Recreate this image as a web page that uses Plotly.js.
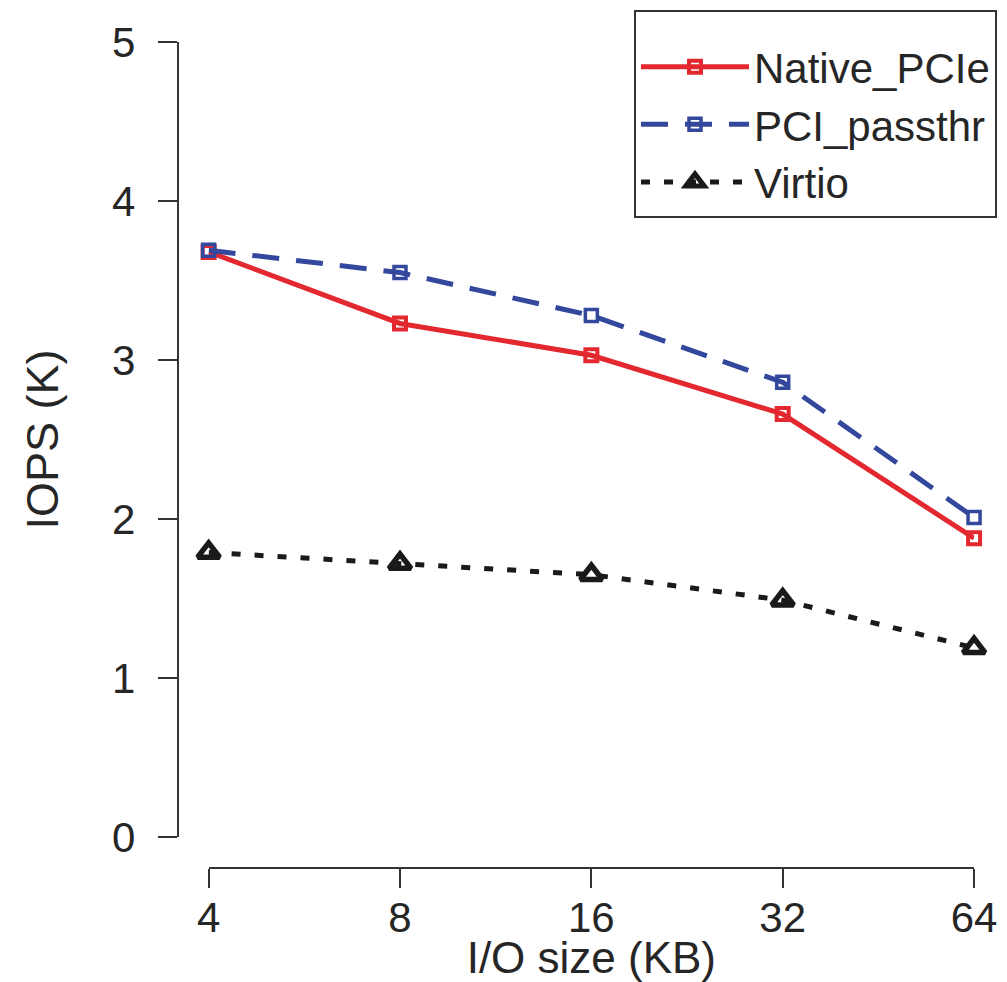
<!DOCTYPE html>
<html>
<head>
<meta charset="utf-8">
<script src="https://cdn.plot.ly/plotly-3.0.1.min.js"></script>
<style>html,body{margin:0;padding:0;background:#fff;}</style>
</head>
<body>
<div id="chart" style="width:1007px;height:982px;"></div>
<script>
const ioSizes = ["4", "8", "16", "32", "64"];
const nativePCIe = [3.68, 3.23, 3.03, 2.66, 1.88];
const pciPassthr = [3.69, 3.55, 3.28, 2.86, 2.01];
const virtio = [1.79, 1.72, 1.65, 1.49, 1.19];
const yTicks = [0, 1, 2, 3, 4, 5];

const FONT = "Liberation Sans, Arial, sans-serif";
const TXT = "#262626";

const traces = [
  {
    x: ioSizes, y: nativePCIe, name: "Native_PCIe", type: "scatter", mode: "lines+markers",
    line: {color: "#e3282f", width: 5},
    marker: {symbol: "square-open", size: 12, color: "#e3282f", line: {width: 4, color: "#e3282f"}},
    cliponaxis: false
  },
  {
    x: ioSizes, y: pciPassthr, name: "PCI_passthr", type: "scatter", mode: "lines+markers",
    line: {color: "#33489c", width: 5, dash: "27px,17px"},
    marker: {symbol: "square-open", size: 12, color: "#33489c", line: {width: 3.5, color: "#33489c"}},
    cliponaxis: false
  },
  {
    x: ioSizes, y: virtio, name: "Virtio", type: "scatter", mode: "lines+markers",
    line: {color: "#1a1a1a", width: 5, dash: "9px,14px"},
    marker: {symbol: "triangle-up-open", size: 19, color: "#1a1a1a", line: {width: 5.5, color: "#1a1a1a"}},
    cliponaxis: false
  }
];

const layout = {
  width: 1007, height: 982,
  margin: {l: 100, r: 10, t: 40, b: 114},
  paper_bgcolor: "#fff", plot_bgcolor: "#fff",
  font: {family: FONT, color: TXT, size: 42},
  showlegend: true,
  xaxis: {
    type: "category",
    domain: [(209 - 100) / 897, (977 - 100) / 897],
    range: [0, 4],
    anchor: "free", position: 0,
    showgrid: false, zeroline: false,
    showline: true, linecolor: "#333", linewidth: 2,
    ticks: "outside", ticklen: 19, tickwidth: 2, tickcolor: "#333",
    tickfont: {size: 42, family: FONT, color: TXT},
    ticklabelstandoff: -6,
    title: {text: "I/O size (KB)", font: {size: 44, family: FONT, color: TXT}, standoff: 2}
  },
  yaxis: {
    domain: [(868 - 837) / 828, 1],
    range: [0, 5],
    anchor: "free", position: (178 - 100) / 897,
    tickvals: yTicks,
    showgrid: false, zeroline: false,
    showline: true, linecolor: "#333", linewidth: 2,
    ticks: "outside", ticklen: 19, tickwidth: 2, tickcolor: "#333",
    tickfont: {size: 42, family: FONT, color: TXT},
    ticklabelstandoff: 14,
    title: {text: "IOPS (K)", font: {size: 45, family: FONT, color: TXT}, standoff: 38}
  },
  legend: {
    x: (1000 - 100) / 897, xanchor: "right",
    y: (868 - 8) / 828, yanchor: "top",
    bgcolor: "#fff", bordercolor: "#333", borderwidth: 2,
    font: {size: 42, family: FONT, color: TXT},
    itemwidth: 108,
    tracegroupgap: 0,
    title: {text: " ", font: {size: 16}}
  }
};

Plotly.newPlot("chart", traces, layout, {displayModeBar: false, staticPlot: true});
</script>
</body>
</html>
